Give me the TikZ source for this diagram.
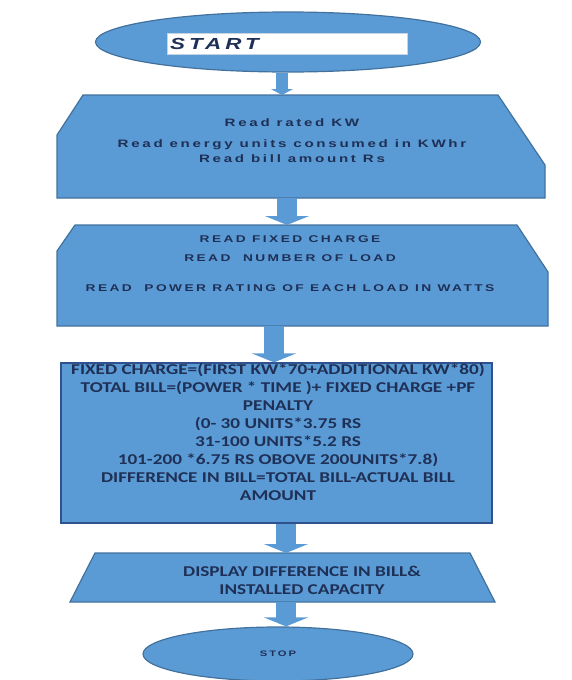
\documentclass[tikz,border=0pt]{standalone}
\usepackage{fontspec}
\setmainfont{Carlito}
\newfontfamily\readfont[FakeStretch=1.4,LetterSpace=25]{Liberation Sans}
\newfontfamily\calcfont[FakeStretch=1.28]{Carlito}
\usetikzlibrary{arrows.meta,positioning,calc,shapes.geometric}
\definecolor{FlowBlue}{HTML}{5B9BD5}
\definecolor{FlowEdge}{HTML}{41719C}
\definecolor{FlowDark}{HTML}{2F528F}
\definecolor{FlowText}{HTML}{1F3056}
\tikzset{
  flowfill/.style={fill=FlowBlue, draw=FlowEdge, line width=1.2pt},
  terminal/.style={ellipse, flowfill, inner sep=0pt},
  area/.style={inner sep=0pt, outer sep=0pt},
  boxtext/.style={text=FlowText, align=center, inner sep=0pt},
  blockarrow/.style={draw=FlowBlue, line width=20pt, -{Triangle[width=44pt,length=9pt]}},
  thinarrow/.style={draw=FlowBlue, line width=12pt, -{Triangle[width=22pt,length=6pt]}},
}
\begin{document}
\begin{tikzpicture}[x=1pt,y=-1pt]
    \useasboundingbox (0,0) rectangle (572,680);
    % start
    \node[terminal,minimum width=385pt,minimum height=60pt] (start) at (288,42) {};
    \node[fill=white,draw=FlowEdge!30,line width=0.4pt,minimum width=240pt,minimum height=21pt,
          inner sep=3pt,text width=234pt,align=left,anchor=west,text=FlowText,
          font=\readfont\bfseries\itshape\fontsize{16}{16}\selectfont] (startlabel) at (167,44) {START};
    % read rated kw
    \node[area,minimum width=488pt,minimum height=103pt] (readkw) at (301,146.5) {};
    \draw[flowfill] ([xshift=26pt]readkw.north west) -- ([xshift=-47pt]readkw.north east)
      -- ([yshift=-70pt]readkw.north east) -- (readkw.south east) -- (readkw.south west)
      -- ([yshift=-40pt]readkw.north west) -- cycle;
    \node[boxtext,font=\readfont\bfseries\fontsize{10.8}{15}\selectfont] (readkwtext) at (292,141)
      {Read rated KW\\[6pt] Read energy units consumed in KWhr\\ Read bill amount Rs};
    % read fixed charge
    \node[area,minimum width=491pt,minimum height=101pt] (readload) at (302.5,275.5) {};
    \draw[flowfill] ([xshift=18pt]readload.north west) -- ([xshift=-31pt]readload.north east)
      -- ([yshift=-47pt]readload.north east) -- (readload.south east) -- (readload.south west)
      -- ([yshift=-26pt]readload.north west) -- cycle;
    \node[boxtext,font=\readfont\bfseries\fontsize{9.8}{19}\selectfont] (readloadtext) at (290,263.5)
      {READ FIXED CHARGE\\ READ\ \ NUMBER OF LOAD\\[11pt] READ\ \ POWER RATING OF EACH LOAD IN WATTS};
    % compute bill
    \node[flowfill,draw=FlowDark,minimum width=431pt,minimum height=160pt] (compute) at (276.5,443) {};
    \node[boxtext,font=\calcfont\bfseries\fontsize{15}{18}\selectfont] (computetext) at (278,432)
      {FIXED CHARGE=(FIRST KW*70+ADDITIONAL KW*80)\\
       TOTAL BILL=(POWER * TIME )+ FIXED CHARGE +PF\\
       PENALTY\\
       (0- 30 UNITS*3.75 RS\\
       31-100 UNITS*5.2 RS\\
       101-200 *6.75 RS OBOVE 200UNITS*7.8)\\
       DIFFERENCE IN BILL=TOTAL BILL-ACTUAL BILL\\
       AMOUNT};
    % display
    \node[area,minimum width=425pt,minimum height=49pt] (display) at (282.5,577.5) {};
    \draw[flowfill] ([xshift=25pt]display.north west) -- ([xshift=-25pt]display.north east)
      -- (display.south east) -- (display.south west) -- cycle;
    \node[boxtext,font=\calcfont\bfseries\fontsize{15}{18}\selectfont] (displaytext) at (302,580)
      {DISPLAY DIFFERENCE IN BILL\&\\ INSTALLED CAPACITY};
    % stop
    \node[terminal,minimum width=270pt,minimum height=54pt,text=FlowText,
          font=\readfont\bfseries\fontsize{8}{8}\selectfont] (stop) at (278,654) {STOP};
    % arrows
    \draw[thinarrow] ([xshift=-6pt]start.south) -- ([xshift=-6pt]start.south |- readkw.north);
    \draw[blockarrow] ([xshift=-14pt]readkw.south) -- ([xshift=-14pt]readkw.south |- readload.north);
    \draw[blockarrow] ([xshift=-28.5pt]readload.south) -- ([xshift=-28.5pt]readload.south |- compute.north);
    \draw[blockarrow] ([xshift=9.5pt]compute.south) -- ([xshift=9.5pt]compute.south |- display.north);
    \draw[blockarrow] ([xshift=3.5pt]display.south) -- ([xshift=3.5pt]display.south |- stop.north);
  \end{tikzpicture}
\end{document}
